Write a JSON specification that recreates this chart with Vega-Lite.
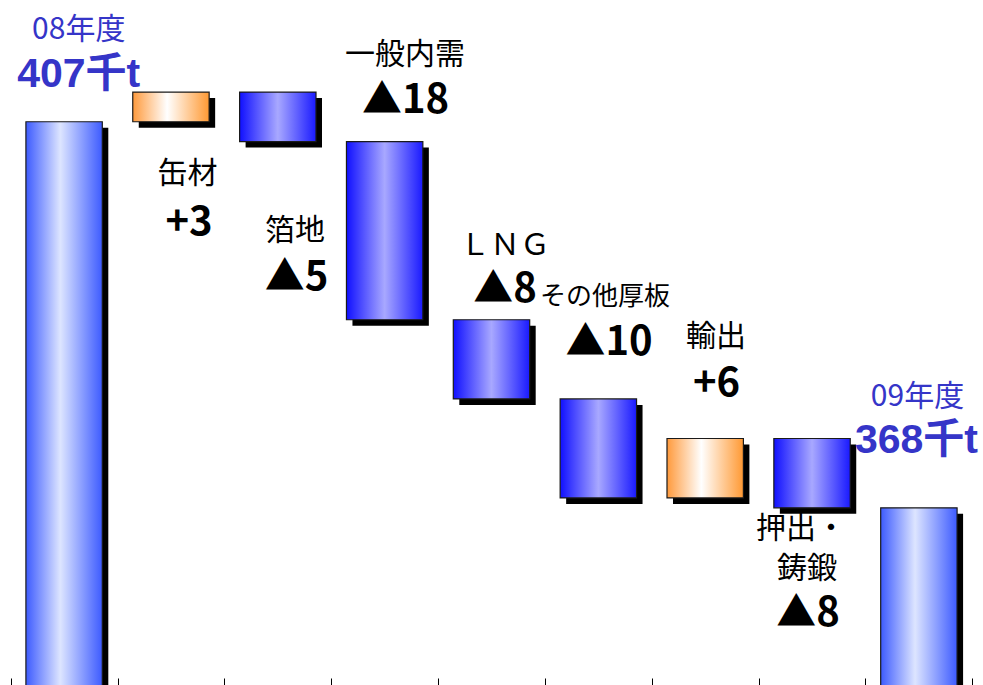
{
  "$schema": "https://vega.github.io/schema/vega-lite/v6.json",
  "width": 983,
  "height": 685,
  "autosize": {"type": "none"},
  "padding": 0,
  "background": "white",
  "config": {"view": {"stroke": null}},
  "datasets": {
    "bars": [
      {"item": "08年度", "low": 0, "high": 407, "kind": "total"},
      {"item": "缶材", "low": 407, "high": 410, "kind": "up"},
      {"item": "箔地", "low": 405, "high": 410, "kind": "down"},
      {"item": "一般内需", "low": 387, "high": 405, "kind": "down"},
      {"item": "LNG", "low": 379, "high": 387, "kind": "down"},
      {"item": "その他厚板", "low": 369, "high": 379, "kind": "down"},
      {"item": "輸出", "low": 369, "high": 375, "kind": "up"},
      {"item": "押出・鋳鍛", "low": 368, "high": 375, "kind": "down"},
      {"item": "09年度", "low": 0, "high": 368, "kind": "total"}
    ],
    "labels": [
      {"text": "08年度", "slot": 0.637, "level": 415.4, "kind": "year"},
      {"text": "407千t", "slot": 0.637, "level": 410.5, "kind": "total"},
      {"text": "缶材", "slot": 1.655, "level": 400.8, "kind": "name"},
      {"text": "+3", "slot": 1.669, "level": 395.6, "kind": "delta"},
      {"text": "箔地", "slot": 2.661, "level": 395.1, "kind": "name"},
      {"text": "▲5", "slot": 2.675, "level": 390.0, "kind": "delta"},
      {"text": "一般内需", "slot": 3.69, "level": 412.8, "kind": "name"},
      {"text": "▲18", "slot": 3.695, "level": 407.9, "kind": "delta"},
      {"text": "ＬＮＧ", "slot": 4.626, "level": 393.5, "kind": "name"},
      {"text": "▲8", "slot": 4.626, "level": 388.8, "kind": "delta"},
      {"text": "その他厚板", "slot": 5.562, "level": 388.5, "kind": "small"},
      {"text": "▲10", "slot": 5.6, "level": 383.4, "kind": "delta"},
      {"text": "輸出", "slot": 6.601, "level": 384.3, "kind": "name"},
      {"text": "+6", "slot": 6.606, "level": 379.3, "kind": "delta"},
      {"text": "押出・", "slot": 7.397, "level": 365.0, "kind": "name"},
      {"text": "鋳鍛", "slot": 7.453, "level": 360.9, "kind": "name"},
      {"text": "▲8", "slot": 7.462, "level": 356.1, "kind": "delta"},
      {"text": "09年度", "slot": 8.487, "level": 378.3, "kind": "year"},
      {"text": "368千t", "slot": 8.477, "level": 373.5, "kind": "total"}
    ]
  },
  "layer": [
    {
      "data": {"name": "bars"},
      "mark": {"type": "bar", "fill": "#000000", "xOffset": 6, "yOffset": 6, "y2Offset": 6, "width": {"band": 0.715}, "clip": true},
      "encoding": {
        "x": {"field": "item", "type": "nominal", "sort": null,
              "scale": {"domain": ["08年度", "缶材", "箔地", "一般内需", "LNG", "その他厚板", "輸出", "押出・鋳鍛", "09年度"], "paddingInner": 0, "paddingOuter": 0.1},
              "axis": null},
        "y": {"field": "high", "type": "quantitative", "scale": {"domain": [350.1, 419.3], "nice": false, "zero": false}, "axis": null},
        "y2": {"field": "low"}
      }
    },
    {
      "data": {"name": "bars"},
      "transform": [{"filter": "datum.kind === 'total'"}],
      "mark": {"type": "bar", "width": {"band": 0.715}, "clip": true, "stroke": "#1a1a1a", "strokeWidth": 1.2,
               "fill": {"gradient": "linear", "x1": 0, "y1": 0, "x2": 1, "y2": 0,
                        "stops": [{"offset": 0, "color": "#3D5BFF"}, {"offset": 0.45, "color": "#DDE5FF"}, {"offset": 1, "color": "#3D5BFF"}]}},
      "encoding": {
        "x": {"field": "item", "type": "nominal", "sort": null,
              "scale": {"domain": ["08年度", "缶材", "箔地", "一般内需", "LNG", "その他厚板", "輸出", "押出・鋳鍛", "09年度"], "paddingInner": 0, "paddingOuter": 0.1}, "axis": null},
        "y": {"field": "high", "type": "quantitative", "scale": {"domain": [350.1, 419.3], "nice": false, "zero": false}, "axis": null},
        "y2": {"field": "low"}
      }
    },
    {
      "data": {"name": "bars"},
      "transform": [{"filter": "datum.kind === 'down'"}],
      "mark": {"type": "bar", "width": {"band": 0.715}, "clip": true, "stroke": "#1a1a1a", "strokeWidth": 1.2,
               "fill": {"gradient": "linear", "x1": 0, "y1": 0, "x2": 1, "y2": 0,
                        "stops": [{"offset": 0, "color": "#1010FF"}, {"offset": 0.5, "color": "#A8A8FF"}, {"offset": 1, "color": "#1A1AFF"}]}},
      "encoding": {
        "x": {"field": "item", "type": "nominal", "sort": null,
              "scale": {"domain": ["08年度", "缶材", "箔地", "一般内需", "LNG", "その他厚板", "輸出", "押出・鋳鍛", "09年度"], "paddingInner": 0, "paddingOuter": 0.1}, "axis": null},
        "y": {"field": "high", "type": "quantitative", "scale": {"domain": [350.1, 419.3], "nice": false, "zero": false}, "axis": null},
        "y2": {"field": "low"}
      }
    },
    {
      "data": {"name": "bars"},
      "transform": [{"filter": "datum.kind === 'up'"}],
      "mark": {"type": "bar", "width": {"band": 0.715}, "clip": true, "stroke": "#1a1a1a", "strokeWidth": 1.2,
               "fill": {"gradient": "linear", "x1": 0, "y1": 0, "x2": 1, "y2": 0,
                        "stops": [{"offset": 0, "color": "#FF9A3C"}, {"offset": 0.45, "color": "#FFFFFF"}, {"offset": 1, "color": "#FF9933"}]}},
      "encoding": {
        "x": {"field": "item", "type": "nominal", "sort": null,
              "scale": {"domain": ["08年度", "缶材", "箔地", "一般内需", "LNG", "その他厚板", "輸出", "押出・鋳鍛", "09年度"], "paddingInner": 0, "paddingOuter": 0.1}, "axis": null},
        "y": {"field": "high", "type": "quantitative", "scale": {"domain": [350.1, 419.3], "nice": false, "zero": false}, "axis": null},
        "y2": {"field": "low"}
      }
    },
    {
      "data": {"name": "labels"},
      "transform": [{"filter": "datum.kind === 'name'"}],
      "mark": {"type": "text", "align": "center", "baseline": "alphabetic", "font": "Noto Sans CJK JP", "fontSize": 30, "color": "#000000"},
      "encoding": {
        "x": {"field": "slot", "type": "quantitative", "scale": {"domain": [-0.1, 9.1], "nice": false, "zero": false},
              "axis": {"orient": "bottom", "values": [0, 1, 2, 3, 4, 5, 6, 7, 8, 9], "title": null, "labels": false, "domain": false, "grid": false, "ticks": true, "tickSize": 7, "tickColor": "#000000", "tickWidth": 1, "offset": -7}},
        "y": {"field": "level", "type": "quantitative", "scale": {"domain": [350.1, 419.3], "nice": false, "zero": false}, "axis": null},
        "text": {"field": "text"}
      }
    },
    {
      "data": {"name": "labels"},
      "transform": [{"filter": "datum.kind === 'small'"}],
      "mark": {"type": "text", "align": "center", "baseline": "alphabetic", "font": "Noto Sans CJK JP", "fontSize": 26, "color": "#000000"},
      "encoding": {
        "x": {"field": "slot", "type": "quantitative", "scale": {"domain": [-0.1, 9.1], "nice": false, "zero": false}, "axis": null},
        "y": {"field": "level", "type": "quantitative", "scale": {"domain": [350.1, 419.3], "nice": false, "zero": false}, "axis": null},
        "text": {"field": "text"}
      }
    },
    {
      "data": {"name": "labels"},
      "transform": [{"filter": "datum.kind === 'delta'"}],
      "mark": {"type": "text", "align": "center", "baseline": "alphabetic", "font": "Noto Sans CJK JP", "fontWeight": "bold", "fontSize": 40, "color": "#000000"},
      "encoding": {
        "x": {"field": "slot", "type": "quantitative", "scale": {"domain": [-0.1, 9.1], "nice": false, "zero": false}, "axis": null},
        "y": {"field": "level", "type": "quantitative", "scale": {"domain": [350.1, 419.3], "nice": false, "zero": false}, "axis": null},
        "text": {"field": "text"}
      }
    },
    {
      "data": {"name": "labels"},
      "transform": [{"filter": "datum.kind === 'year'"}],
      "mark": {"type": "text", "align": "center", "baseline": "alphabetic", "font": "Noto Sans CJK JP", "fontSize": 30, "color": "#3535C8"},
      "encoding": {
        "x": {"field": "slot", "type": "quantitative", "scale": {"domain": [-0.1, 9.1], "nice": false, "zero": false}, "axis": null},
        "y": {"field": "level", "type": "quantitative", "scale": {"domain": [350.1, 419.3], "nice": false, "zero": false}, "axis": null},
        "text": {"field": "text"}
      }
    },
    {
      "data": {"name": "labels"},
      "transform": [{"filter": "datum.kind === 'total'"}],
      "mark": {"type": "text", "align": "center", "baseline": "alphabetic", "font": "Liberation Sans, Noto Sans CJK JP", "fontWeight": "bold", "fontSize": 41, "color": "#3535C8"},
      "encoding": {
        "x": {"field": "slot", "type": "quantitative", "scale": {"domain": [-0.1, 9.1], "nice": false, "zero": false}, "axis": null},
        "y": {"field": "level", "type": "quantitative", "scale": {"domain": [350.1, 419.3], "nice": false, "zero": false}, "axis": null},
        "text": {"field": "text"}
      }
    }
  ],
  "resolve": {"scale": {"x": "independent"}}
}
